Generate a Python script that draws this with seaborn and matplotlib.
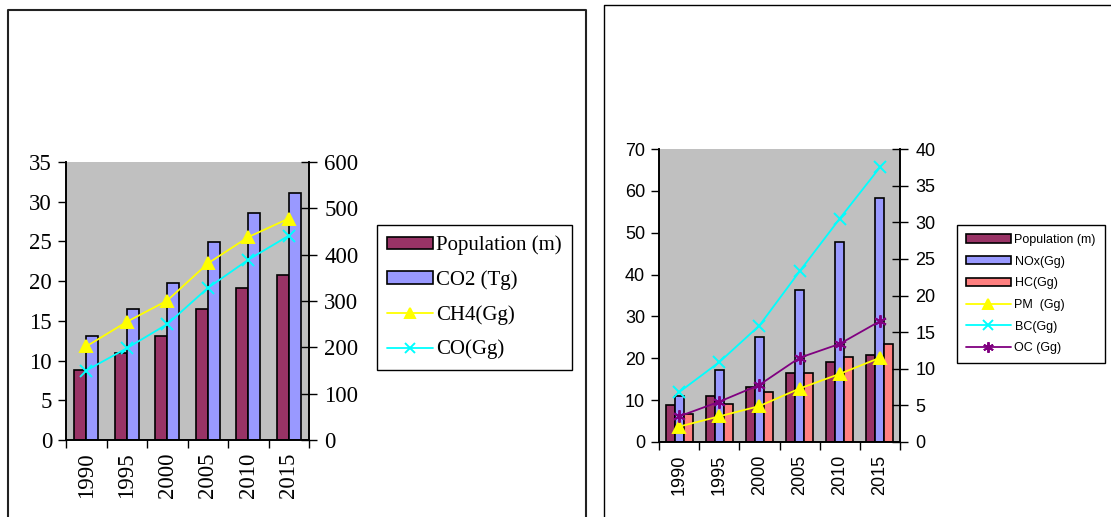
import numpy as np
import pandas as pd
import matplotlib
matplotlib.use("Agg")
import matplotlib.pyplot as plt
from matplotlib.patches import Patch
from matplotlib.lines import Line2D
import seaborn as sns

years = ["1990", "1995", "2000", "2005", "2010", "2015"]

# left chart
population = [8.8, 11.0, 13.1, 16.5, 19.1, 20.8]
co2 = [13.1, 16.5, 19.8, 24.9, 28.6, 31.1]
ch4 = [202, 255, 301, 381, 438, 478]
co = [150, 198, 250, 328, 389, 441]

# right chart
nox = [11.1, 17.3, 25.0, 36.4, 47.7, 58.4]
hc = [6.7, 9.1, 12.0, 16.4, 20.2, 23.4]
pm = [2.1, 3.5, 4.9, 7.3, 9.3, 11.5]
bc = [6.8, 10.9, 15.9, 23.3, 30.5, 37.5]
oc = [3.5, 5.5, 7.8, 11.5, 13.4, 16.5]

MAROON = "#993366"
LILAC = "#9999FF"
SALMON = "#FF8080"
YELLOW = "#FFFF00"
CYAN = "#00FFFF"
PURPLE = "#800080"

sns.set_style("ticks", {"axes.edgecolor": "black", "xtick.color": "black",
                        "ytick.color": "black", "text.color": "black"})

fig = plt.figure(figsize=(11.11, 5.17), dpi=100)
W, H = 1111, 517


def px(x0, y0, x1, y1):
    # pixel box -> figure fraction rect
    return [x0 / W, 1 - y1 / H, (x1 - x0) / W, (y1 - y0) / H]


def panel(rect, bars, lines, lmax, lstep, rmax, rstep, family, fs, width):
    ax = fig.add_axes(rect)
    names = [b[0] for b in bars]
    df = pd.DataFrame({
        "year": years * len(bars),
        "value": sum((list(b[1]) for b in bars), []),
        "series": np.repeat(names, len(years)),
    })
    sns.barplot(data=df, x="year", y="value", hue="series", hue_order=names,
                palette=[b[2] for b in bars], width=width, saturation=1,
                edgecolor="black", linewidth=1.2, legend=False, ax=ax)
    ax.set_facecolor("#C0C0C0")

    ax2 = ax.twinx()
    for name, vals, color, marker, ms in lines:
        sns.pointplot(x=years, y=vals, color=color, markers=marker,
                      markersize=ms, linewidth=1.3, markeredgewidth=1.4,
                      errorbar=None, ax=ax2)

    ax.set_xlim(-0.5, len(years) - 0.5)
    ax.set_xticks(np.arange(-0.5, len(years), 1))
    ax.set_xticklabels([])
    ax.set_xticks(np.arange(len(years)), minor=True)
    ax.set_xticklabels(years, minor=True, rotation=90, family=family, fontsize=fs)
    ax.tick_params(axis="x", which="major", length=6, width=1, direction="out")
    ax.tick_params(axis="x", which="minor", length=0, pad=9)

    ax.set_ylim(0, lmax)
    ax.set_yticks(np.arange(0, lmax + 1, lstep))
    ax.set_yticklabels([str(v) for v in range(0, lmax + 1, lstep)], family=family, fontsize=fs)
    ax.tick_params(axis="y", length=6, width=1, direction="out", pad=4)

    ax2.set_ylim(0, rmax)
    ax2.set_yticks(np.arange(0, rmax + 1, rstep))
    ax2.set_yticklabels([str(v) for v in range(0, rmax + 1, rstep)], family=family, fontsize=fs)
    ax2.tick_params(axis="y", length=12, width=1, direction="inout", pad=5)

    for a in (ax, ax2):
        a.set_xlabel("")
        a.set_ylabel("")
        a.spines["top"].set_visible(False)
        for s in ("left", "right", "bottom"):
            a.spines[s].set_linewidth(1.2)

    handles = [Patch(facecolor=b[2], edgecolor="black", linewidth=1.2) for b in bars]
    handles += [Line2D([], [], color=l[2], marker=l[3], markersize=l[4] * 0.85,
                       markeredgewidth=1.4, linewidth=1.3) for l in lines]
    labels = names + [l[0] for l in lines]
    return ax, handles, labels


# left panel
axL, hL, lL = panel(
    px(66, 162, 309, 440),
    [("Population (m)", population, MAROON), ("CO2 (Tg)", co2, LILAC)],
    [("CH4(Gg)", ch4, YELLOW, "^", 9), ("CO(Gg)", co, CYAN, "x", 8)],
    35, 5, 600, 100, "Liberation Serif", 16.5, 0.6)
fig.legend(hL, lL, loc="upper left", bbox_to_anchor=(377 / W, 1 - 225 / H),
           borderaxespad=0, frameon=True, fancybox=False, edgecolor="black",
           framealpha=1, prop={"family": "Liberation Serif", "size": 15},
           handlelength=2.2, handleheight=0.55, labelspacing=0.72,
           handletextpad=0.15, borderpad=0.5)

# right panel
axR, hR, lR = panel(
    px(659, 149, 900, 442),
    [("Population (m)", population, MAROON), ("NOx(Gg)", nox, LILAC), ("HC(Gg)", hc, SALMON)],
    [("PM  (Gg)", pm, YELLOW, "^", 8), ("BC(Gg)", bc, CYAN, "x", 9),
     ("OC (Gg)", oc, PURPLE, (6, 2, 0), 9)],
    70, 10, 40, 5, "Liberation Sans", 13, 0.67)
fig.legend(hR, lR, loc="upper left", bbox_to_anchor=(957 / W, 1 - 225 / H),
           borderaxespad=0, frameon=True, fancybox=False, edgecolor="black",
           framealpha=1, prop={"family": "Liberation Sans", "size": 9},
           handlelength=3.6, handleheight=0.65, labelspacing=0.78,
           handletextpad=0.3, borderpad=0.7)

# panel borders
fig.add_artist(Line2D([8 / W, 8 / W, 586 / W, 586 / W], [0, 1 - 10 / H, 1 - 10 / H, 0],
                      transform=fig.transFigure, color="#222222", linewidth=1.5))
fig.add_artist(Line2D([604 / W, 604 / W, 1], [0, 1 - 5 / H, 1 - 5 / H],
                      transform=fig.transFigure, color="black", linewidth=1.0))

fig.savefig("out.png", dpi=100)
